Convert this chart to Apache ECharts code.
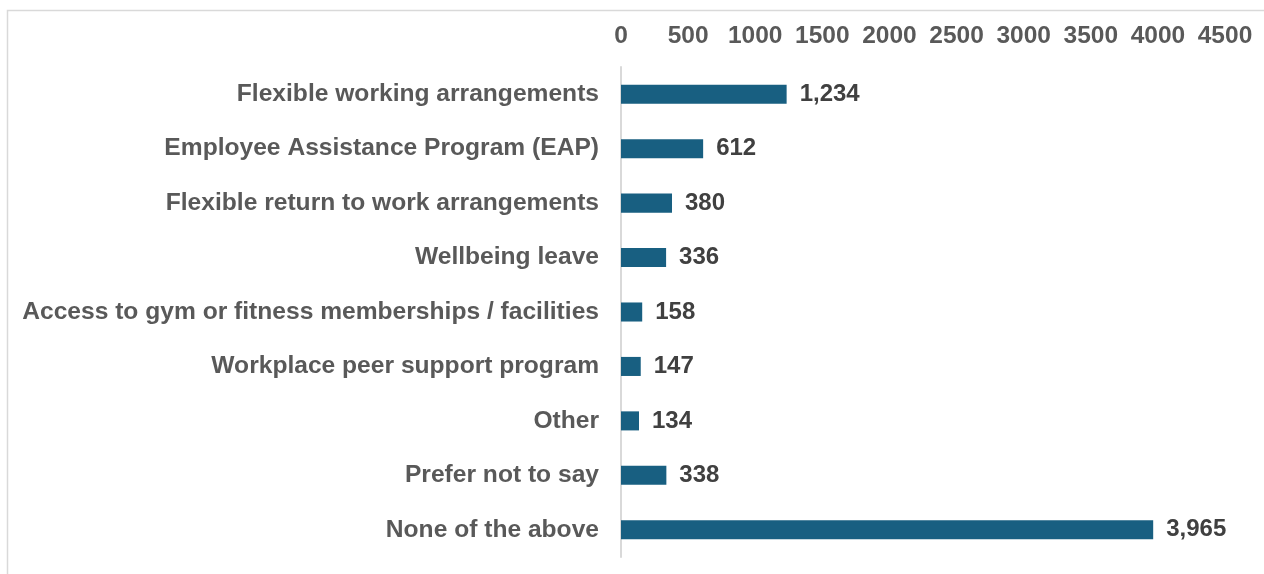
<!DOCTYPE html>
<html>
<head>
<meta charset="utf-8">
<script src="https://cdn.jsdelivr.net/npm/echarts@6/dist/echarts.min.js"></script>
<style>
  html, body { margin: 0; padding: 0; background: #ffffff; }
  #chart { width: 1264px; height: 574px; }
</style>
</head>
<body>
<div id="chart"></div>
<script>
// Support options used by staff
const categories = [
  'Flexible working arrangements',
  'Employee Assistance Program (EAP)',
  'Flexible return to work arrangements',
  'Wellbeing leave',
  'Access to gym or fitness memberships / facilities',
  'Workplace peer support program',
  'Other',
  'Prefer not to say',
  'None of the above'
];
const counts = [1234, 612, 380, 336, 158, 147, 134, 338, 3965];
const axisMax = 4500;
const axisStep = 500;

const chart = echarts.init(document.getElementById('chart'));
chart.setOption({
  animation: false,
  textStyle: { fontFamily: '"Liberation Sans", Arial, sans-serif' },
  graphic: [{
    type: 'rect',
    shape: { x: 7.5, y: 10.5, width: 1300, height: 600 },
    style: { fill: 'none', stroke: '#d9d9d9', lineWidth: 1.5 },
    silent: true
  }],
  grid: { left: 621, right: 39, top: 67, bottom: 17 },
  xAxis: {
    type: 'value',
    position: 'top',
    min: 0,
    max: axisMax,
    interval: axisStep,
    axisLine: { show: false },
    axisTick: { show: false },
    splitLine: { show: false },
    axisLabel: {
      color: '#595959',
      fontSize: 24.5,
      fontWeight: 'bold',
      margin: 18,
      formatter: v => String(v)
    }
  },
  yAxis: {
    type: 'category',
    data: categories,
    inverse: true,
    axisLine: { show: true, lineStyle: { color: '#d9d9d9', width: 2 } },
    axisTick: { show: false },
    axisLabel: {
      color: '#595959',
      fontSize: 24.6,
      fontWeight: 'bold',
      margin: 22
    }
  },
  series: [{
    type: 'bar',
    data: counts,
    barWidth: '35%',
    itemStyle: { color: '#185f81' },
    label: {
      show: true,
      position: 'right',
      distance: 13,
      color: '#404040',
      fontSize: 24,
      fontWeight: 'bold',
      formatter: p => p.value.toLocaleString('en-US')
    }
  }]
});
</script>
</body>
</html>
